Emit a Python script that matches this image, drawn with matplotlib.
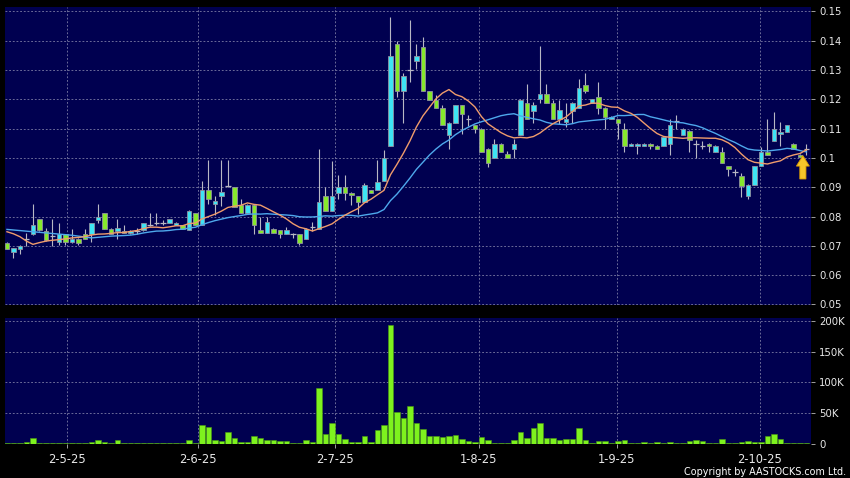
import matplotlib
matplotlib.use("Agg")
import matplotlib.pyplot as plt
import matplotlib.patches as mpatches
from matplotlib.ticker import FuncFormatter
import numpy as np
import pandas as pd

# daily candles (index 0 = first candle on the left)
opens = [
    .0711, .0680, .0690, .0722, .0741, .0790, .0750, .0735, .0714, .0739,
    .0713, .0724, .0741, .0741, .0788, .0811, .0759, .0751, .0752, .0744,
    .0752, .0754, .0770, .0779, .0779, .0779, .0770, .0770, .0753, .0811,
    .0770, .0892, .0841, .0870, .0904, .0900, .0839, .0811, .0839, .0753,
    .0743, .0759, .0753, .0741, .0741, .0739, .0722, .0763, .0756, .0869,
    .0818, .0881, .0900, .0880, .0869, .0849, .0890, .0892, .0920, .1040,
    .1389, .1227, .1300, .1330, .1378, .1227, .1199, .1170, .1077, .1119,
    .1180, .1132, .1111, .1100, .1031, .1001, .1048, .1012, .1032, .1078,
    .1189, .1160, .1200, .1219, .1189, .1132, .1123, .1160, .1172, .1249,
    .1189, .1209, .1172, .1132, .1132, .1100, .1041, .1041, .1041, .1049,
    .1041, .1041, .1049, .1125, .1077, .1092, .1049, .1041, .1049, .1021,
    .1021, .0971, .0953, .0939, .0871, .0908, .0971, .1021, .1058, .1081,
    .1090, .1049, .1011, .1030,
]
highs = [
    .0713, .0694, .0703, .0745, .0841, .0792, .0762, .0790, .0779, .0741,
    .0759, .0726, .0759, .0779, .0841, .0813, .0761, .0790, .0771, .0755,
    .0760, .0779, .0811, .0811, .0788, .0792, .0781, .0772, .0822, .0813,
    .0920, .0992, .0870, .0992, .0992, .0902, .0861, .0841, .0841, .0800,
    .0800, .0761, .0755, .0765, .0745, .0741, .0761, .0782, .1031, .0899,
    .0991, .0940, .0940, .0882, .0871, .0915, .0892, .0992, .1028, .1480,
    .1398, .1289, .1470, .1390, .1412, .1229, .1213, .1182, .1121, .1182,
    .1182, .1145, .1113, .1102, .1033, .1066, .1050, .1023, .1065, .1200,
    .1252, .1190, .1381, .1251, .1199, .1199, .1189, .1191, .1270, .1290,
    .1202, .1259, .1174, .1143, .1134, .1120, .1051, .1051, .1051, .1051,
    .1043, .1072, .1132, .1145, .1102, .1094, .1060, .1058, .1051, .1043,
    .1036, .0973, .0962, .0948, .0910, .0973, .1036, .1132, .1155, .1124,
    .1114, .1051, .1013, .1049,
]
lows = [
    .0688, .0660, .0671, .0700, .0738, .0750, .0718, .0700, .0702, .0702,
    .0711, .0702, .0722, .0714, .0779, .0759, .0741, .0722, .0744, .0740,
    .0740, .0752, .0768, .0771, .0770, .0779, .0770, .0759, .0753, .0770,
    .0770, .0841, .0806, .0836, .0900, .0832, .0811, .0811, .0739, .0743,
    .0743, .0743, .0727, .0741, .0727, .0702, .0722, .0752, .0756, .0818,
    .0818, .0861, .0855, .0838, .0810, .0849, .0880, .0892, .0920, .1040,
    .1208, .1119, .1260, .1305, .1227, .1199, .1170, .1112, .1031, .1119,
    .1080, .1110, .1085, .1020, .0968, .1001, .1020, .1001, .1001, .1078,
    .1132, .1120, .1189, .1189, .1132, .1115, .1105, .1120, .1172, .1222,
    .1189, .1150, .1100, .1132, .1066, .1020, .1041, .1012, .1041, .1032,
    .1032, .1041, .1010, .1100, .1077, .1020, .1000, .1032, .1021, .1021,
    .0981, .0939, .0939, .0866, .0860, .0908, .0971, .1011, .1058, .1041,
    .1090, .1032, .1002, .1010,
]
closes = [
    .0690, .0692, .0701, .0722, .0770, .0753, .0720, .0735, .0741, .0713,
    .0722, .0711, .0724, .0779, .0800, .0759, .0741, .0760, .0744, .0752,
    .0752, .0779, .0770, .0779, .0779, .0790, .0779, .0759, .0820, .0770,
    .0892, .0860, .0853, .0883, .0904, .0832, .0811, .0839, .0770, .0743,
    .0781, .0743, .0741, .0753, .0741, .0711, .0759, .0763, .0850, .0818,
    .0869, .0900, .0880, .0872, .0849, .0909, .0880, .0917, .0998, .1349,
    .1227, .1281, .1300, .1349, .1227, .1199, .1170, .1112, .1119, .1180,
    .1151, .1132, .1100, .1020, .0982, .1048, .1020, .1001, .1049, .1198,
    .1132, .1180, .1219, .1189, .1132, .1163, .1132, .1189, .1240, .1228,
    .1200, .1172, .1141, .1141, .1120, .1041, .1049, .1049, .1049, .1041,
    .1032, .1070, .1112, .1125, .1100, .1060, .1049, .1041, .1041, .1041,
    .0981, .0962, .0953, .0903, .0908, .0971, .1021, .1011, .1100, .1090,
    .1112, .1032, .1002, .1030,
]
# volume in thousands of shares
volume_k = [
    1.2, 1.5, 1.5, 2.0, 8.7, 0.5, 0.5, 0.5, 0.4, 0.5,
    0.5, 0.5, 1.0, 2.7, 5.5, 2.0, 1.0, 5.0, 1.6, 0.5,
    1.2, 1.5, 1.5, 1.5, 1.2, 1.5, 1.0, 0.5, 5.5, 1.6,
    30, 27, 5.5, 4.0, 18, 8.7, 2.7, 2.0, 12.5, 9,
    6, 5.5, 4.4, 3.3, 1.6, 1.6, 5, 2, 90, 15,
    33, 15, 8, 2, 3, 13, 3, 22, 30, 193,
    51, 42, 62, 34, 23, 12.5, 11.5, 11, 13, 13.6,
    8, 4.4, 2.2, 10, 5.5, 1, 1, 1, 5, 18.5,
    8.7, 26, 34, 9, 8.7, 5.5, 7.6, 7.6, 25, 6.5,
    1.6, 4.4, 3.3, 1, 3.8, 5, 1.6, 1.6, 2.2, 1.6,
    2.2, 1.6, 2.2, 1.6, 1.6, 3.8, 5.5, 3.3, 1.6, 1.6,
    7.6, 1, 1, 2.2, 3.3, 2.2, 2.2, 11.5, 16, 7,
    1, 1, 1, 1.6,
]
# moving averages before enough candles are on screen
ma10_head = [0.0748, 0.0741, 0.0731, 0.0716, 0.0705, 0.0711, 0.0716, 0.0719, 0.0721]
ma20_head = [0.0756, 0.0754, 0.0752, 0.0750, 0.0748, 0.0746, 0.0744, 0.0742, 0.0740,
             0.0738, 0.0736, 0.0733, 0.0730, 0.0727, 0.0729, 0.0731, 0.0733, 0.0734,
             0.0735]

tick_labels = ["2-5-25", "2-6-25", "2-7-25", "1-8-25", "1-9-25", "2-10-25"]
tick_pos = [9.3, 29.4, 50.5, 72.6, 93.8, 115.8]
price_ticks = [0.05, 0.06, 0.07, 0.08, 0.09, 0.10, 0.11, 0.12, 0.13, 0.14, 0.15]
vol_ticks = [0, 50000, 100000, 150000, 200000]

BG = "#000050"
UP = "#3ee4f4"
DOWN = "#86e82c"
EDGE = "#9090a0"
WICK = "#b8b8c4"
GRID = "#7c7ca4"
TXT = "#e8e8e8"

o = np.array(opens)
hi = np.array(highs)
lo = np.array(lows)
c = np.array(closes)
vol = np.array(volume_k) * 1000
n = len(c)
idx = np.arange(n)

cs = pd.Series(c)
ma10 = cs.rolling(10).mean().to_numpy()
ma10[:len(ma10_head)] = ma10_head
ma20 = cs.rolling(20).mean().to_numpy()
ma20[:len(ma20_head)] = ma20_head

W, H = 850, 478
fig = plt.figure(figsize=(W / 100, H / 100), dpi=100, facecolor="black")
ax = fig.add_axes([4.5 / W, 1 - 305 / H, 806.5 / W, 298 / H])
axv = fig.add_axes([4.5 / W, 1 - 443.5 / H, 806.5 / W, 125.5 / H])

for a in (ax, axv):
    a.set_facecolor(BG)
    for sp in a.spines.values():
        sp.set_visible(False)
    a.set_axisbelow(True)
    a.set_xlim(-0.38, n - 0.3)
    a.set_xticks(tick_pos)
    a.grid(True, color=GRID, linestyle=(0, (2.2, 2.2)), linewidth=0.6)
    a.yaxis.tick_right()
    a.tick_params(axis="y", colors=TXT, labelsize=7.3, length=3.2, width=0.7,
                  pad=2.6)
    a.tick_params(axis="y", which="both", color="#a0a0a0")

# price panel
ax.set_ylim(0.0498, 0.1515)
ax.set_yticks(price_ticks)
ax.yaxis.set_major_formatter(FuncFormatter(lambda v, p: f"{v:g}"))
ax.tick_params(axis="x", length=0, labelbottom=False)

up = c > o
down = c < o
flat = c == o
ax.vlines(idx, lo, hi, color=WICK, linewidth=0.8, zorder=2)
ax.bar(idx[up], (c - o)[up], bottom=o[up], width=0.72, color=UP,
       edgecolor=EDGE, linewidth=0.6, zorder=3)
ax.bar(idx[down], (o - c)[down], bottom=c[down], width=0.72, color=DOWN,
       edgecolor=EDGE, linewidth=0.6, zorder=3)
ax.hlines(c[flat], idx[flat] - 0.4, idx[flat] + 0.4, color=WICK,
          linewidth=0.9, zorder=3)

ax.plot(idx, ma20, color="#4ea8ec", linewidth=1.0, zorder=4)
ax.plot(idx, ma10, color="#f09c6c", linewidth=1.0, zorder=4)

# marker arrow under the latest but one candle
ax.add_patch(mpatches.FancyArrow(
    n - 1.55, 0.0928, 0, c[n - 2] - 0.0922, width=0.95, head_width=2.0,
    head_length=0.0036, length_includes_head=True,
    facecolor="#f6c62a", edgecolor="#d99a00", linewidth=0.6, zorder=5))

# volume panel
axv.bar(idx, vol, width=0.86, color="#7ef21e", edgecolor="#4a9a12",
        linewidth=0.4, zorder=3)
axv.set_ylim(0, 205000)
axv.set_yticks(vol_ticks)
axv.set_yticklabels(["0", "50K", "100K", "150K", "200K"])
axv.set_xticklabels(tick_labels)
axv.tick_params(axis="x", colors=TXT, labelsize=8.3, length=3, width=0.7,
                pad=3.5, color="#a0a0a0")

fig.text(846 / W, 1 - 475 / H, "Copyright by AASTOCKS.com Ltd.", ha="right",
         va="baseline", color="white", fontsize=6.9)

fig.savefig("out.png", dpi=100, facecolor="black")
